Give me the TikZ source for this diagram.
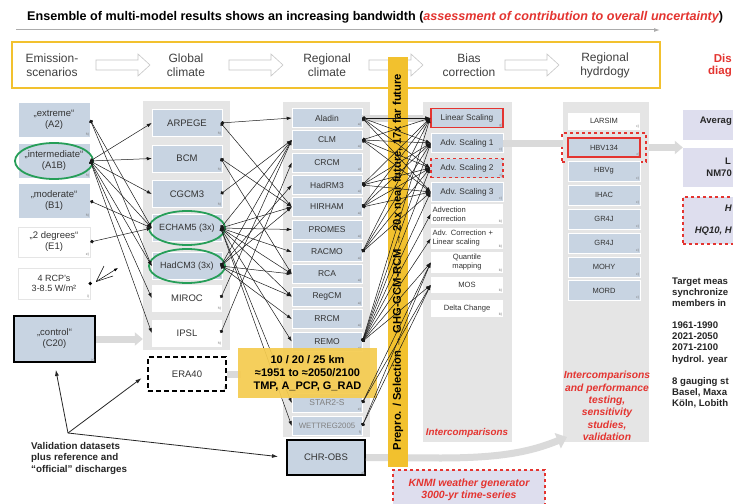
\documentclass[tikz,border=0pt]{standalone}
\usepackage{fontspec}
\setmainfont{Liberation Sans}
\usetikzlibrary{arrows.meta}
\definecolor{boxblue}{RGB}{200,212,226}
\definecolor{panelgray}{RGB}{229,229,229}
\definecolor{yellowc}{RGB}{242,193,46}
\definecolor{kmyellow}{RGB}{245,204,80}
\definecolor{redc}{RGB}{228,52,48}
\definecolor{greenc}{RGB}{38,158,88}
\definecolor{lav}{RGB}{222,222,238}
\definecolor{bandgray}{RGB}{218,218,218}
\begin{document}
\begin{tikzpicture}[x=1pt,y=-1pt,
  panel/.style={fill=panelgray, draw=none, inner sep=0pt},
  bbox/.style={fill=boxblue, draw=white, line width=0.5pt, inner sep=0pt, align=center, text=black!80},
  wbox/.style={fill=white, draw=gray!20, line width=0.5pt, inner sep=0pt, align=center, text=black!80},
  em/.style={minimum width=72pt, minimum height=35pt, font=\fontsize{9.5}{11}\selectfont},
  gc/.style={minimum width=70pt, minimum height=27pt, font=\fontsize{9.5}{11}\selectfont},
  rc/.style={minimum width=70pt, minimum height=19pt, font=\fontsize{8.5}{9}\selectfont},
  bc/.style={minimum width=72pt, minimum height=19pt, font=\fontsize{8.3}{9}\selectfont},
  bw/.style={minimum width=72pt, font=\fontsize{7.6}{9}\selectfont},
  hc/.style={minimum width=72pt, minimum height=20pt, font=\fontsize{7.5}{8}\selectfont},
  tlab/.style={anchor=south east, inner sep=1pt, font=\fontsize{3.5}{4}\selectfont, text=black!55},
  tl/.style={label={[tlab]south east:#1}},
  con/.style={{Circle[length=3.6pt]}-{Latex[length=5pt,width=3.5pt]}, line width=0.5pt, draw=black!90},
  band/.style={draw=bandgray, line width=7pt},
  stage/.style={align=center, font=\fontsize{12}{14}\selectfont, text=black!75},
  hollow/.style={draw=gray!45, fill=white, line width=0.6pt},
  redtxt/.style={text=redc, font=\bfseries\itshape\fontsize{10.3}{12.4}\selectfont, align=center},
  rtxt/.style={anchor=west, align=left, font=\bfseries\fontsize{9.6}{11.2}\selectfont, text=black!85, inner sep=0pt},
  edgetxt/.style={anchor=east, inner sep=0pt, font=\bfseries\fontsize{9.5}{10}\selectfont, text=black!85},
  valarr/.style={-{Latex[length=6pt,width=4pt]}, line width=0.8pt, draw=black!85},
]
\useasboundingbox (0,0) rectangle (733,503);
\fill[white] (0,0) rectangle (733,503);

% title
\node[anchor=west, inner sep=0pt, font=\bfseries\fontsize{12.6}{14}\selectfont] (title) at (27,17)
  {Ensemble of multi-model results shows an increasing bandwidth (\textcolor{redc}{\itshape assessment of contribution to overall uncertainty})};
\coordinate (tls) at (16,30);
\coordinate (tle) at (660,30);
\draw[gray!65, line width=1pt, -{Latex[length=6pt,width=4pt]}] (tls) -- (tle);

% stage box
\node[draw=yellowc, line width=2pt, minimum width=648pt, minimum height=46pt, inner sep=0pt] (stagebox) at (336,65) {};
\node[stage] (st1) at (52,65) {Emission-\\scenarios};
\node[stage] (st2) at (186,65) {Global\\climate};
\node[stage] (st3) at (327,65) {Regional\\climate};
\node[stage] (st4) at (469,65) {Bias\\correction};
\node[stage] (st5) at (605,65) {Regional\\hydrdogy};
\foreach \xa in {96,229,369,505}{
  \draw[hollow] (\xa,60) -- (\xa+42,60) -- (\xa+42,54) -- (\xa+54,65) -- (\xa+42,76) -- (\xa+42,70) -- (\xa,70) -- cycle;
}
\node[anchor=east, inner sep=0pt, text=redc, font=\bfseries\fontsize{11.5}{12}\selectfont] (dis) at (732,58) {Dis};
\node[anchor=east, inner sep=0pt, text=redc, font=\bfseries\fontsize{11.5}{12}\selectfont] (diag) at (732,72) {diag};

% panels
\node[panel, minimum width=87pt, minimum height=249pt] (gcmp) at (186.5,225.5) {};
\node[panel, minimum width=87pt, minimum height=335pt] (rcmp) at (326.5,269.5) {};
\node[panel, minimum width=89pt, minimum height=340pt] (biasp) at (467.5,272) {};
\node[panel, minimum width=86pt, minimum height=340pt] (hydp) at (606,272) {};

% emission scenarios
\node[bbox,em,tl=h)] (extreme) at (54,120) {„extreme“\\(A2)};
\node[bbox,em,tl=h)] (interm) at (54,161) {„intermediate“\\(A1B)};
\node[bbox,em,tl=h)] (moder) at (54,201) {„moderate“\\(B1)};
\node[wbox,em,minimum height=30pt,tl=e)] (twodeg) at (54,242) {„2 degrees“\\(E1)};
\node[wbox,em,minimum height=31pt,font=\fontsize{9}{10.5}\selectfont,tl=i)] (rcp) at (54,283.5) {4 RCP's\\3-8.5 W/m²};
\node[bbox, minimum width=81pt, minimum height=46pt, draw=black, line width=2pt, font=\fontsize{9.5}{11}\selectfont, tl=h)] (control) at (54.5,339) {„control“\\(C20)};

% GCM
\node[bbox,gc,tl=h)] (arpege) at (187,123) {ARPEGE};
\node[bbox,gc,tl=h)] (bcm) at (187,158.5) {BCM};
\node[bbox,gc,tl=h)] (cgcm) at (187,194) {CGCM3};
\node[bbox,gc,font=\fontsize{9}{11}\selectfont,tl=h)] (echam) at (187,228) {ECHAM5 (3x)};
\node[bbox,gc,font=\fontsize{9}{11}\selectfont,tl=h)] (hadcm) at (187,266) {HadCM3 (3x)};
\node[wbox,gc,draw=none,tl=h)] (miroc) at (187,298) {MIROC};
\node[wbox,gc,draw=none,tl=h)] (ipsl) at (187,333) {IPSL};
\node[fill=white, draw=black, line width=1.8pt, dash pattern=on 5pt off 3pt, minimum width=78pt, minimum height=34pt, inner sep=0pt, font=\fontsize{9.5}{11}\selectfont, text=black!80, tl=j)] (era) at (187,374) {ERA40};

% bands
\draw[band, -{Triangle[length=8pt,width=13pt]}] (control.east) -- (control.east -| gcmp.west);
\draw[band] (era.east) -- ++(14,0);

% RCM
\node[bbox,rc,tl=a)] (aladin) at (327,118) {Aladin};
\node[bbox,rc,tl=a)] (clm) at (327,140) {CLM};
\node[bbox,rc,tl=a)] (crcm) at (327,162.5) {CRCM};
\node[bbox,rc,tl=a)] (hadrm) at (327,185) {HadRM3};
\node[bbox,rc,tl=a)] (hirham) at (327,207) {HIRHAM};
\node[bbox,rc,tl=a)] (promes) at (327,229.5) {PROMES};
\node[bbox,rc,tl=a)] (racmo) at (327,252) {RACMO};
\node[bbox,rc,tl=a)] (rca) at (327,274) {RCA};
\node[bbox,rc,tl=a)] (regcm) at (327,296.5) {RegCM};
\node[bbox,rc,tl=a)] (rrcm) at (327,319) {RRCM};
\node[bbox,rc,tl=a)] (remo) at (327,341.5) {REMO};
\node[bbox,rc,text=black!50,tl=e)] (stars) at (327,403) {STAR2-S};
\node[bbox,rc,font=\fontsize{7.8}{9}\selectfont,text=black!50,tl=f)] (wettreg) at (327,426) {WETTREG2005};
\node[bbox, minimum width=78pt, minimum height=35pt, draw=black, line width=2pt, font=\fontsize{9.5}{11}\selectfont, tl=d)] (chrobs) at (326,457.5) {CHR-OBS};

% Bias correction
\node[bbox,bc,draw=redc,line width=1.6pt,tl=g)] (ls) at (467,118) {Linear Scaling};
\node[bbox,bc,tl=c)] (as1) at (467,143) {Adv. Scaling 1};
\node[bbox,bc,draw=redc,line width=1.6pt,dashed,tl=c)] (as2) at (467,168) {Adv. Scaling 2};
\node[bbox,bc,tl=c)] (as3) at (467,192) {Adv. Scaling 3};
\node[wbox,bw,draw=none,minimum height=20pt,text width=69pt,align=left,tl=b)] (advc) at (467,214) {Advection\\correction};
\node[wbox,bw,draw=none,minimum height=21pt,text width=69pt,align=left,tl=b)] (advlin) at (467,238.5) {Adv. Correction +\\Linear scaling};
\node[wbox,bw,draw=none,minimum height=21pt,tl=b)] (qm) at (467,262.5) {Quantile\\mapping};
\node[wbox,bw,draw=none,minimum height=16pt,tl=b)] (mos) at (467,285) {MOS};
\node[wbox,bw,draw=none,minimum height=17pt,tl=b)] (delta) at (467,308.5) {Delta Change};
\node[text=redc, inner sep=0pt, font=\bfseries\itshape\fontsize{9.8}{10}\selectfont] (interc) at (467,433) {Intercomparisons};

% Hydrology
\node[wbox,hc,draw=none,minimum height=17pt,tl=c)] (larsim) at (604,121) {LARSIM};
\node[draw=redc, dashed, line width=1.6pt, minimum width=84pt, minimum height=29pt, inner sep=0pt] (hbvout) at (604,147.5) {};
\node[bbox,hc,draw=redc,line width=1.6pt,minimum height=19pt,tl=c)] (hbv) at (604,147.5) {HBV134};
\node[bbox,hc,tl=c)] (hbvg) at (604,171) {HBVg};
\node[bbox,hc,tl=c)] (ihac) at (604,195) {IHAC};
\node[bbox,hc,tl=c)] (gra) at (604,219) {GR4J};
\node[bbox,hc,tl=c)] (grb) at (604,243) {GR4J};
\node[bbox,hc,tl=c)] (mohy) at (604,267) {MOHY};
\node[bbox,hc,tl=c)] (mord) at (604,290.5) {MORD};
\node[redtxt] (hydtxt) at (607,406) {Intercomparisons\\and performance\\testing,\\sensitivity\\studies,\\validation};

% right column
\node[fill=lav, minimum width=60pt, minimum height=30pt, inner sep=0pt] (avg) at (713,125) {};
\node[fill=lav, minimum width=60pt, minimum height=39pt, inner sep=0pt] (lbox) at (713,167.5) {};
\node[fill=lav, draw=redc, dashed, line width=1.6pt, minimum width=60pt, minimum height=47pt, inner sep=0pt] (hqbox) at (713,220.5) {};
\node[edgetxt] (avgt) at (732,121) {Averag};
\node[edgetxt] (lt) at (731,161) {L};
\node[edgetxt] (nmt) at (732,173) {NM70};
\node[edgetxt, font=\bfseries\itshape\fontsize{9.5}{10}\selectfont] (ht) at (732,208) {H};
\node[edgetxt, font=\bfseries\itshape\fontsize{9.5}{10}\selectfont] (hqt) at (732,231) {HQ10, H};
\node[rtxt] (t1) at (672,292) {Target meas\\synchronize\\members in};
\node[rtxt] (t2) at (672,343) {1961-1990\\2021-2050\\2071-2100\\hydrol. year};
\node[rtxt] (t3) at (672,393) {8 gauging st\\Basel, Maxa\\Köln, Lobith};

% gray bands
\draw[band] (aladin.east) -- (aladin -| biasp.west);
\draw[band] (as1.east) -- (as1 -| hydp.west);
\draw[band, -{Triangle[length=8pt,width=13pt]}] (hbvout.east -| hydp.east) -- (hbv -| avg.west);
\coordinate (bandmid) at (440,458);
\coordinate (bandend) at (567,437);
\draw[band, -{Triangle[length=10pt,width=16pt]}] (chrobs.east) -- (bandmid) .. controls (500,458) and (530,452) .. (bandend);

% ellipses
\draw[greenc, line width=1.8pt] (interm.center) ellipse [x radius=39pt, y radius=18pt];
\draw[greenc, line width=1.8pt] (echam.center) ellipse [x radius=38pt, y radius=17pt];
\draw[greenc, line width=1.8pt] (hadcm.center) ellipse [x radius=38pt, y radius=17pt];

% emission -> GCM
\foreach \s/\t in {extreme/echam, extreme/hadcm, interm/arpege, interm/bcm, interm/cgcm, interm/echam, interm/hadcm, interm/miroc, interm/ipsl, moder/echam, twodeg/echam}
  \draw[con] (\s.east) -- (\t.west);
\coordinate (fa) at (104,266);
\coordinate (fb) at (118,268);
\coordinate (fc) at (113,276);
\fill[black] (rcp.east) circle (1.8pt);
\draw[line width=0.5pt] ([xshift=6pt,yshift=2pt]rcp.east) -- (fa);
\draw[line width=0.5pt, -{Latex[length=4pt,width=3pt]}] ([xshift=6pt,yshift=2pt]rcp.east) -- (fb);
\draw[line width=0.5pt] ([xshift=6pt,yshift=2pt]rcp.east) -- (fc);

% GCM -> RCM
\foreach \s/\t in {arpege/aladin, arpege/hirham, bcm/hirham, bcm/rca, cgcm/clm, echam/clm, echam/hirham, echam/promes, echam/racmo, echam/rca, echam/regcm, echam/remo, echam/stars, echam/wettreg, hadcm/clm, hadcm/hadrm, hadcm/hirham, hadcm/rca, hadcm/rrcm, hadcm/regcm, miroc/clm, ipsl/crcm}
  \draw[con] ([xshift=-1.5pt]\s.east) -- (\t.west);

% km box
\node[fill=kmyellow, fill opacity=0.93, text opacity=1, minimum width=139pt, minimum height=50pt, inner sep=0pt, align=center, font=\bfseries\fontsize{11}{13}\selectfont] (km) at (307.5,373) {10 / 20 / 25 km\\≈1951 to ≈2050/2100\\TMP, A\_PCP, G\_RAD};

% vertical bar
\node[fill=yellowc, minimum width=410pt, minimum height=20pt, inner sep=0pt, rotate=90, font=\bfseries\fontsize{11.2}{12}\selectfont] (vbar) at (398,262) {Prepro. / Selection → GHG-GCM-RCM → 20x near future, 17x far future};

% RCM -> bias
\foreach \s in {aladin, clm, hadrm, hirham, racmo}
  \foreach \t in {ls, as1, as2, as3}
    \draw[con] (\s.east) -- (\t.west);
\foreach \t in {ls, as1, as2, as3, advc, advlin, qm, mos}
  \draw[con] (remo.east) -- (\t.west);
\foreach \s in {stars, wettreg}
  \foreach \t in {qm, mos}
    \draw[con] (\s.east) -- (\t.west);

% KNMI
\node[fill=lav, draw=redc, dashed, line width=1.6pt, minimum width=152pt, minimum height=40pt, inner sep=0pt, align=center, text=redc, font=\bfseries\itshape\fontsize{10.5}{11.5}\selectfont] (knmi) at (469,490) {KNMI weather generator\\3000-yr time-series};

% validation
\coordinate (val) at (68,433);
\node[anchor=north west, inner sep=0pt, align=left, font=\bfseries\fontsize{9.8}{11.5}\selectfont, text=black!85] (valtxt) at (31,442) {Validation datasets\\plus reference and\\“official” discharges};
\draw[valarr, shorten >=7pt] (val) -- (control.south);
\draw[valarr, shorten >=7pt] (val) -- (era.west);
\draw[valarr, shorten >=8pt] (val) -- (chrobs.west);
\end{tikzpicture}
\end{document}
